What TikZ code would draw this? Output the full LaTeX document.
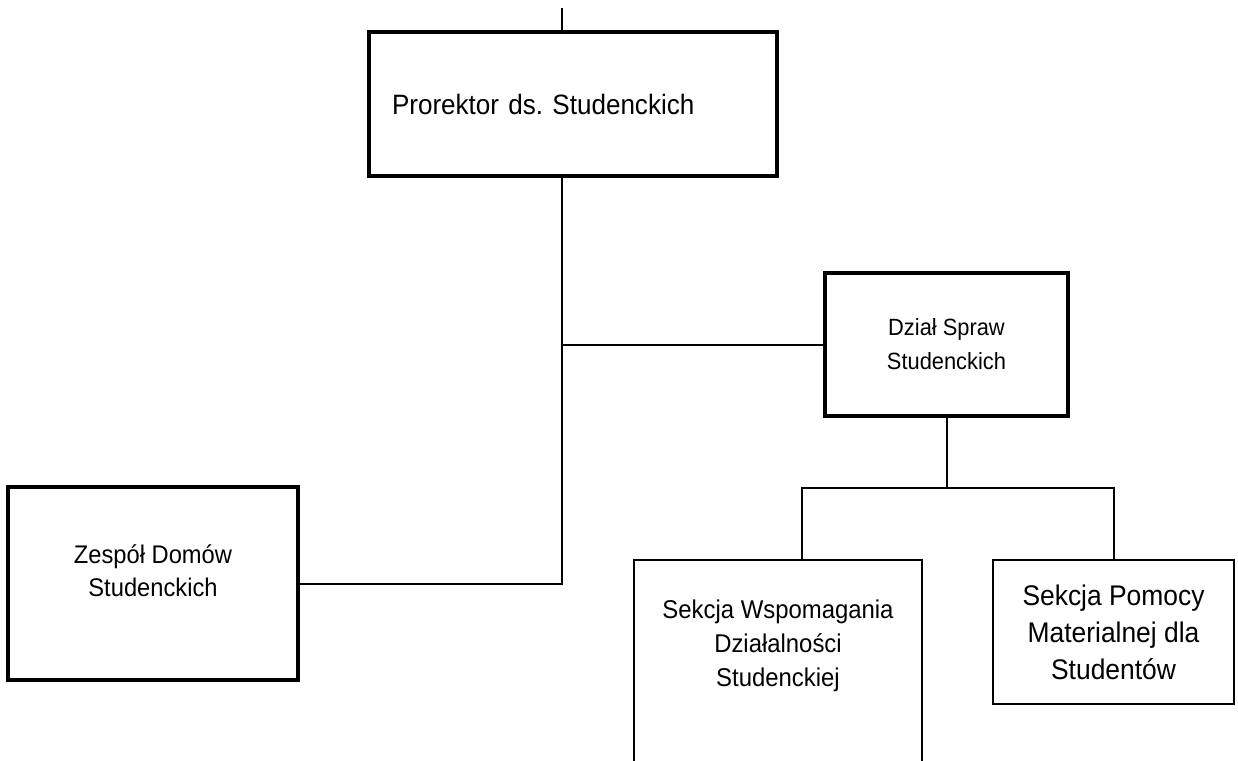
\documentclass[tikz,border=0pt]{standalone}
\usepackage{fontspec}
\setmainfont{Liberation Sans}[FakeStretch=0.93]
\begin{document}
\begin{tikzpicture}[x=1pt,y=-1pt,
    gruba/.style={draw, line width=3.6pt, inner sep=0pt},
    cienka/.style={draw, line width=2.4pt, inner sep=0pt},
    linia/.style={line width=2pt},
    napis/.style={align=center, inner sep=0pt}]
  \useasboundingbox (0,0) rectangle (1238,760);
  \clip (0,0) rectangle (1238,760);
  % Prorektor
  \node[gruba, minimum width=408pt, minimum height=144pt, text width=362pt,
    align=left, font=\fontsize{28}{31}\selectfont] (prorektor) at (573,104)
    {Prorektor ds.\ Studenckich};
  % Dzial Spraw Studenckich
  \node[gruba, napis, minimum width=243pt, minimum height=143pt,
    font=\fontsize{23.5}{34}\selectfont] (dzial) at (946.5,344.5)
    {Dział Spraw\\Studenckich};
  % Zespol Domow Studenckich
  \node[gruba, minimum width=290pt, minimum height=193pt] (zespol) at (153,583.5) {};
  \node[napis, font=\fontsize{25.5}{33}\selectfont] (zespoltxt) at (153,571)
    {Zespół Domów\\Studenckich};
  % sekcje
  \node[cienka, minimum width=288pt, minimum height=230pt] (sekw) at (778,675) {};
  \node[napis, font=\fontsize{25.7}{34}\selectfont] (sekwtxt) at (778,646)
    {Sekcja Wspomagania\\Działalności\\Studenckiej};
  \node[cienka, napis, minimum width=241pt, minimum height=144pt,
    font=\fontsize{28.4}{37}\selectfont] (sekp) at (1113.5,632)
    {Sekcja Pomocy\\Materialnej dla\\Studentów};
  % polaczenia
  \coordinate (gora) at (562,8);
  \coordinate (galaz) at (802,488);
  \draw[linia] (gora) -- (gora |- prorektor.north);
  \draw[linia] (gora |- prorektor.south) -- (gora |- zespol.east) -- (zespol.east);
  \draw[linia] (gora |- dzial.west) -- (dzial.west);
  \draw[linia] (dzial.south) -- (dzial.south |- galaz);
  \draw[linia] (galaz |- sekw.north) -- (galaz) -- (galaz -| sekp.north) -- (sekp.north);
\end{tikzpicture}
\end{document}
